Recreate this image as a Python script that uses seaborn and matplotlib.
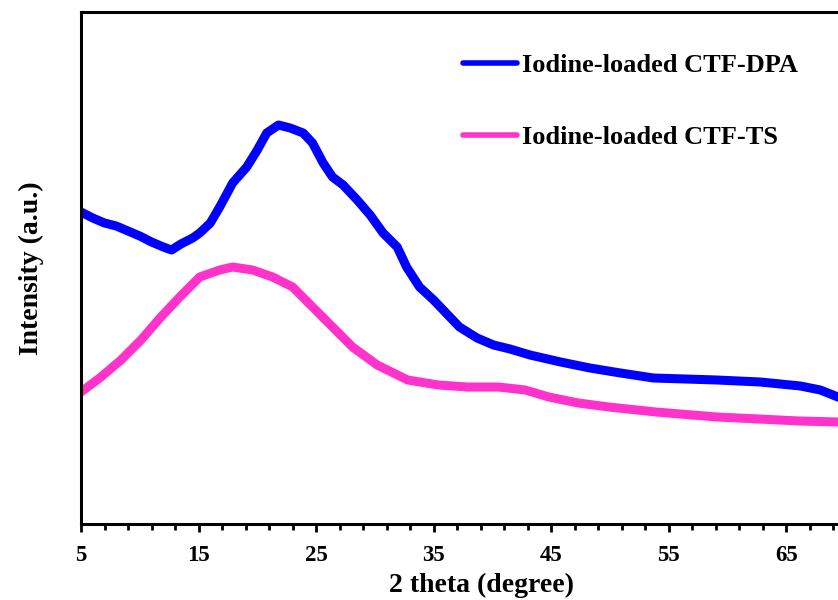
import numpy as np
import pandas as pd
import matplotlib
matplotlib.use("Agg")
import matplotlib.pyplot as plt
import seaborn as sns

# Diffraction angle (2 theta, degree) and intensity (a.u.) for each sample
dpa_theta = [5.0, 6.0, 7.0, 8.0, 9.0, 10.0, 11.0, 12.0, 12.7, 13.5, 14.5,
             15.1, 16.0, 16.8, 17.9, 19.1, 20.0, 20.8, 21.8, 22.8, 23.9,
             24.7, 25.6, 26.4, 27.3, 28.5, 29.6, 30.7, 31.9, 32.7, 33.8,
             35.0, 36.3, 37.2, 38.7, 40.1, 41.5, 43.2, 45.8, 48.3, 50.9,
             53.7, 59.1, 62.8, 66.2, 67.9, 69.4, 70.0]
dpa_intensity = [312, 306, 301, 298, 293, 288, 282, 277, 274, 280, 286,
                 291, 301, 317, 341, 357, 374, 391, 399, 396, 391,
                 381, 361, 347, 339, 324, 309, 291, 277, 257, 237,
                 224, 208, 197, 186, 179, 175, 169, 162, 156, 151,
                 146, 144, 142, 138, 134, 127, 124]

ts_theta = [5.0, 6.7, 8.4, 10.1, 11.8, 13.4, 15.1, 16.8, 17.9, 19.6, 21.3,
            23.0, 24.7, 26.4, 28.1, 30.2, 32.8, 35.4, 37.9, 40.5, 42.8,
            44.8, 47.3, 49.9, 53.9, 59.1, 62.7, 66.1, 69.4, 70.0]
ts_intensity = [132, 147, 164, 184, 207, 227, 247, 254, 257, 254, 247,
                237, 217, 197, 177, 159, 144, 139, 137, 137, 134,
                127, 121, 117, 112, 107, 105, 103, 102, 102]

labels = ["Iodine-loaded CTF-DPA", "Iodine-loaded CTF-TS"]
colors = ["#0000FF", "#FF33CC"]
major_ticks = [5, 15, 25, 35, 45, 55, 65]

df = pd.concat([
    pd.DataFrame({"theta": dpa_theta, "intensity": dpa_intensity, "sample": labels[0]}),
    pd.DataFrame({"theta": ts_theta, "intensity": ts_intensity, "sample": labels[1]}),
], ignore_index=True)

sns.set_style("white")
plt.rcParams["font.family"] = ["Liberation Serif", "DejaVu Serif"]
plt.rcParams["font.weight"] = "bold"
plt.rcParams["text.color"] = "black"
plt.rcParams["axes.labelcolor"] = "black"
plt.rcParams["xtick.color"] = "black"

fig = plt.figure(figsize=(8.38, 6.0), dpi=100)
ax = fig.add_axes([81 / 838, 1 - 524 / 600, 764 / 838, 512 / 600])

sns.lineplot(data=df, x="theta", y="intensity", hue="sample",
             palette=dict(zip(labels, colors)), linewidth=6.5, sort=False,
             estimator=None, ax=ax, solid_capstyle="round",
             solid_joinstyle="round")

ax.set_xlim(5, 70)
ax.set_ylim(0, 512)
ax.set_yticks([])
ax.set_xticks(major_ticks)
ax.set_xticks(np.arange(7, 70, 2), minor=True)
ax.tick_params(axis="x", which="major", direction="out", length=6, width=2,
               labelsize=16.5, pad=9, bottom=True)
ax.tick_params(axis="x", which="minor", direction="out", length=4, width=2,
               bottom=True)
for lbl in ax.get_xticklabels():
    lbl.set_fontweight("bold")

for side in ["left", "bottom", "top"]:
    ax.spines[side].set_linewidth(2.2)
    ax.spines[side].set_color("black")
ax.spines["right"].set_visible(False)

ax.set_xlabel("2 theta (degree)", fontsize=20, fontweight="bold", labelpad=5)
ax.xaxis.label.set_x(0.5236)
ax.set_ylabel("Intensity (a.u.)", fontsize=20, fontweight="bold", labelpad=27)

leg = ax.legend(loc="upper left", bbox_to_anchor=(452 / 838, 1 - 43 / 600),
                bbox_transform=fig.transFigure, frameon=False,
                prop={"family": "Liberation Serif", "weight": "bold", "size": 19},
                handlelength=2.05, handletextpad=0.2, labelspacing=1.85,
                borderaxespad=0)
for line in leg.get_lines():
    line.set_linewidth(4)

fig.savefig("out.png", dpi=100)
